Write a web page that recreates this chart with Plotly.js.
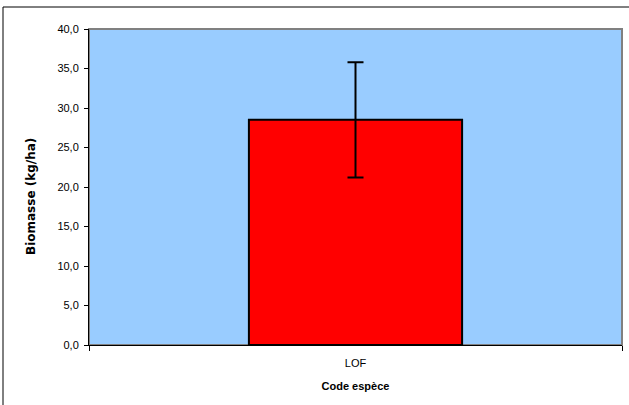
<!DOCTYPE html>
<html><head><meta charset="utf-8">
<script src="https://cdn.plot.ly/plotly-3.0.1.min.js"></script>
<style>html,body{margin:0;padding:0;background:#fff;}#c{width:629px;height:405px;}</style>
</head><body><div id="c"></div>
<script>
const categories = ["LOF"];
const biomass = [28.5];
const errorValues = [7.3];
const yTickVals = [0,5,10,15,20,25,30,35,40];

const trace = {
  type: 'bar', x: categories, y: biomass,
  width: 0.4,
  marker: {color: '#FF0000', line: {color: '#000000', width: 2}},
  error_y: {type: 'data', array: errorValues, visible: true, color: '#000000', thickness: 2, width: 8}
};
const L = 89, R = 7, T = 29, B = 60, W = 629 - L - R, H = 405 - T - B;
const layout = {
  width: 629, height: 405,
  margin: {l: L, r: R, t: T, b: B, pad: 0},
  paper_bgcolor: '#ffffff', plot_bgcolor: '#99CCFF',
  separators: ', ',
  font: {family: 'Liberation Sans, Arial, sans-serif', size: 11, color: '#000'},
  showlegend: false,
  xaxis: {
    showgrid: false, showline: true, linecolor: '#000', linewidth: 1,
    ticks: 'outside', tickson: 'boundaries', ticklen: 5, tickcolor: '#000',
    tickfont: {size: 11}, automargin: false, ticklabelstandoff: 8,
    title: {text: 'Code espèce', font: {size: 11, weight: 'bold'}, standoff: 14}
  },
  yaxis: {
    range: [0, 40], tickvals: yTickVals, tickformat: '.1f',
    showgrid: false, showline: true, linecolor: '#000', linewidth: 1,
    ticks: 'outside', ticklen: 4, tickcolor: '#000', zeroline: false,
    tickfont: {size: 11}, automargin: false, ticklabelstandoff: 3
  },
  annotations: [
    {text: 'Biomasse (kg/ha)', xref: 'paper', yref: 'paper',
     x: (31 - L) / W, y: 1 - (197 - T) / H, xanchor: 'center', yanchor: 'middle',
     textangle: -90, showarrow: false,
     font: {family: 'DejaVu Sans, sans-serif', size: 12, weight: 'bold', color: '#000'}}
  ],
  shapes: [
    {type: 'rect', xref: 'paper', yref: 'paper', x0: 0, x1: 1, y0: 0, y1: 1,
     line: {color: '#808080', width: 2}, layer: 'below'},
    {type: 'rect', xref: 'paper', yref: 'paper',
     x0: (3 - L) / W, x1: (640 - L) / W, y0: -(415 - (T + H)) / H, y1: 1 + (T - 7) / H,
     line: {color: '#000', width: 1}, fillcolor: 'rgba(0,0,0,0)', layer: 'above'}
  ]
};
Plotly.newPlot('c', [trace], layout, {staticPlot: true, displayModeBar: false});
</script></body></html>
